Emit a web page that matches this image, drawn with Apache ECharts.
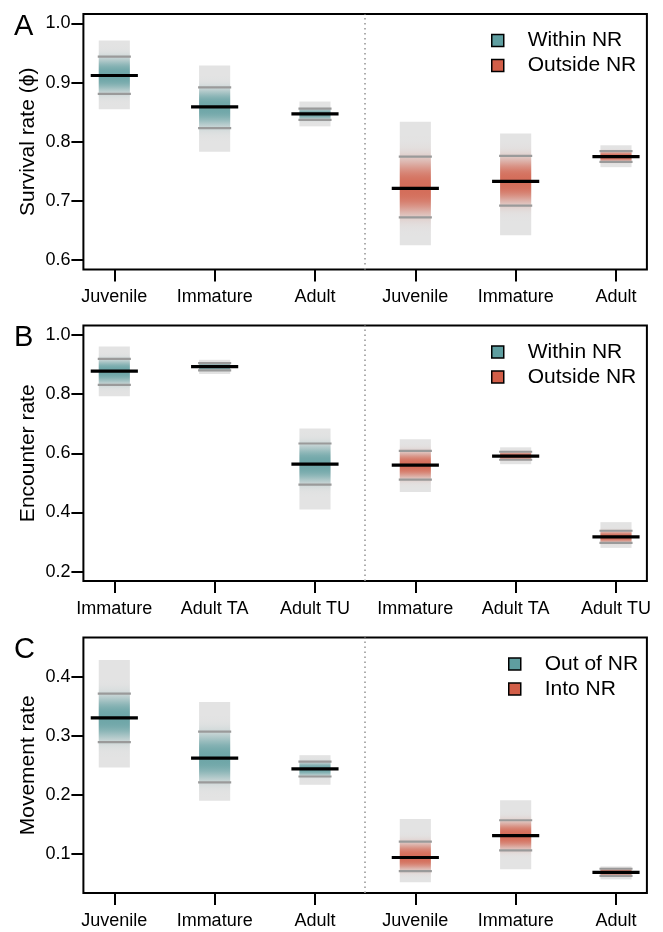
<!DOCTYPE html>
<html><head><meta charset="utf-8">
<script src="https://cdn.jsdelivr.net/npm/echarts@6/dist/echarts.min.js"></script>
<style>html,body{margin:0;padding:0;background:#fff}#c{width:663px;height:932px}</style>
</head><body><div id="c"></div>
<script>
// ---- Data ----
const catsA = ['Juvenile','Immature','Adult','Juvenile','Immature','Adult'];
const meanA = [0.912,0.859,0.847,0.721,0.733,0.775];
const lo50A = [0.881,0.823,0.837,0.672,0.692,0.766];
const hi50A = [0.944,0.892,0.856,0.775,0.776,0.784];
const lo95A = [0.855,0.783,0.826,0.625,0.642,0.757];
const hi95A = [0.971,0.929,0.868,0.834,0.814,0.794];
const yTicksA = [0.6,0.7,0.8,0.9,1.0];

const catsB = ['Immature','Adult TA','Adult TU','Immature','Adult TA','Adult TU'];
const meanB = [0.878,0.893,0.563,0.560,0.590,0.317];
const lo50B = [0.831,0.880,0.494,0.511,0.578,0.297];
const hi50B = [0.919,0.905,0.633,0.608,0.605,0.338];
const lo95B = [0.793,0.868,0.410,0.469,0.563,0.280];
const hi95B = [0.961,0.916,0.684,0.647,0.620,0.367];
const yTicksB = [0.2,0.4,0.6,0.8,1.0];

const catsC = ['Juvenile','Immature','Adult','Juvenile','Immature','Adult'];
const meanC = [0.330,0.262,0.244,0.094,0.131,0.069];
const lo50C = [0.289,0.221,0.231,0.071,0.106,0.063];
const hi50C = [0.371,0.307,0.256,0.121,0.157,0.075];
const lo95C = [0.246,0.190,0.217,0.052,0.074,0.057];
const hi95C = [0.428,0.357,0.267,0.159,0.191,0.079];
const yTicksC = [0.1,0.2,0.3,0.4];

const legendA = ['Within NR','Outside NR'];
const legendB = ['Within NR','Outside NR'];
const legendC = ['Out of NR','Into NR'];
const titlesY = ['Survival rate (\u03D5)','Encounter rate','Movement rate'];
const letters = ['A','B','C'];
const xPositions = [0,1,2,3,4,5];

// ---- Styling ----
const FONT = '"Liberation Sans", Arial, Helvetica, sans-serif';
const TEAL = [95,158,160], RED = [210,94,72];
const TEAL_HEX = '#5f9ea0', RED_HEX = '#d25e48';
const GREY_BOX = '#e3e3e3', GREY_LINE = '#9a9a9a';

function rgba(c,a){ return 'rgba('+c[0]+','+c[1]+','+c[2]+','+a.toFixed(3)+')'; }

function makeRender(rgb){
  return function(params, api){
    const x = api.value(0), m = api.value(1), l1 = api.value(2), h1 = api.value(3),
          l2 = api.value(4), h2 = api.value(5);
    const pTop = api.coord([x, h2]), pBot = api.coord([x, l2]);
    const pM = api.coord([x, m]), pH1 = api.coord([x, h1]), pL1 = api.coord([x, l1]);
    const unit = api.size([1, 0])[0];
    const cx = pTop[0];
    const bw = 0.31 * unit, gw = 0.33 * unit, kw = 0.47 * unit;
    const stops = [];
    const N = 48;
    for (let i = 0; i <= N; i++) {
      const o = i / N;
      const v = h2 - o * (h2 - l2);
      let t = v >= m ? (v - m) / (h1 - m) : (m - v) / (m - l1);
      const a = 0.88 * Math.exp(-Math.pow(t / 0.84, 2.8));
      stops.push({offset: o, color: rgba(rgb, a)});
    }
    const h = pBot[1] - pTop[1];
    return {
      type: 'group',
      children: [
        {type: 'rect', shape: {x: cx - bw/2, y: pTop[1], width: bw, height: h}, style: {fill: GREY_BOX}},
        {type: 'rect', shape: {x: cx - bw/2, y: pTop[1], width: bw, height: h},
         style: {fill: {type: 'linear', x: 0, y: 0, x2: 0, y2: 1, colorStops: stops}}},
        {type: 'line', shape: {x1: cx - gw/2, y1: pH1[1], x2: cx + gw/2, y2: pH1[1]}, style: {stroke: GREY_LINE, lineWidth: 2.2}},
        {type: 'line', shape: {x1: cx - gw/2, y1: pL1[1], x2: cx + gw/2, y2: pL1[1]}, style: {stroke: GREY_LINE, lineWidth: 2.2}},
        {type: 'line', shape: {x1: cx - kw/2, y1: pM[1], x2: cx + kw/2, y2: pM[1]}, style: {stroke: '#000', lineWidth: 3.2}}
      ]
    };
  };
}

function rows(idx, mean, lo50, hi50, lo95, hi95){
  return idx.map(i => [xPositions[i], mean[i], lo50[i], hi50[i], lo95[i], hi95[i]]);
}

const panels = [
  {cats: catsA, mean: meanA, lo50: lo50A, hi50: hi50A, lo95: lo95A, hi95: hi95A, ticks: yTicksA, min: 0.584, max: 1.016, leg: legendA, top: 14, legLeft: 491},
  {cats: catsB, mean: meanB, lo50: lo50B, hi50: hi50B, lo95: lo95B, hi95: hi95B, ticks: yTicksB, min: 0.168, max: 1.032, leg: legendB, top: 325.5, legLeft: 491},
  {cats: catsC, mean: meanC, lo50: lo50C, hi50: hi50C, lo95: lo95C, hi95: hi95C, ticks: yTicksC, min: 0.034, max: 0.466, leg: legendC, top: 637.5, legLeft: 508}
];

const grid = [], xAxis = [], yAxis = [], series = [], legend = [], graphic = [];
panels.forEach((p, k) => {
  grid.push({left: 83.4, top: p.top, width: 563.5, height: 255.5, show: true,
    borderColor: '#000', borderWidth: 2, backgroundColor: 'transparent'});
  xAxis.push({type: 'value', gridIndex: k, min: -0.308, max: 5.308, position: 'bottom',
    axisLine: {show: false, onZero: false}, splitLine: {show: false},
    axisTick: {show: true, customValues: xPositions, length: 12, lineStyle: {color: '#000', width: 2}},
    axisLabel: {customValues: xPositions, formatter: v => p.cats[Math.round(v)],
      fontSize: 18, color: '#000', fontFamily: FONT, margin: 19}});
  yAxis.push({type: 'value', gridIndex: k, min: p.min, max: p.max, position: 'left',
    axisLine: {show: false, onZero: false}, splitLine: {show: false},
    axisTick: {show: true, customValues: p.ticks, length: 12, lineStyle: {color: '#000', width: 2}},
    axisLabel: {customValues: p.ticks, formatter: v => v.toFixed(1),
      fontSize: 18, color: '#000', fontFamily: FONT, margin: 13},
    name: titlesY[k], nameLocation: 'middle', nameGap: 45, nameMoveOverlap: false,
    nameTextStyle: {fontSize: 21, color: '#000', fontFamily: FONT}});
  series.push({type: 'custom', name: p.leg[0], xAxisIndex: k, yAxisIndex: k,
    itemStyle: {color: TEAL_HEX}, renderItem: makeRender(TEAL),
    encode: {x: 0, y: [1,2,3,4,5]},
    data: rows([0,1,2], p.mean, p.lo50, p.hi50, p.lo95, p.hi95),
    markLine: {silent: true, symbol: 'none', label: {show: false},
      lineStyle: {type: [1.5, 3.5], color: '#999999', width: 1.6},
      data: [{xAxis: 2.5}], animation: false},
    animation: false});
  series.push({type: 'custom', name: p.leg[1], xAxisIndex: k, yAxisIndex: k,
    itemStyle: {color: RED_HEX}, renderItem: makeRender(RED),
    encode: {x: 0, y: [1,2,3,4,5]},
    data: rows([3,4,5], p.mean, p.lo50, p.hi50, p.lo95, p.hi95),
    animation: false});
  legend.push({orient: 'vertical', left: p.legLeft, top: p.top + 14.5, padding: 0,
    itemWidth: 12, itemHeight: 12, itemGap: 1, selectedMode: false,
    textStyle: {fontSize: 21, color: '#000', fontFamily: FONT, lineHeight: 24, padding: [0,0,0,19]},
    data: [
      {name: p.leg[0], icon: 'rect', itemStyle: {color: TEAL_HEX, borderColor: '#000', borderWidth: 1.5}},
      {name: p.leg[1], icon: 'rect', itemStyle: {color: RED_HEX, borderColor: '#000', borderWidth: 1.5}}
    ]});
  graphic.push({type: 'text', left: 14, top: p.top - 2,
    style: {text: letters[k], fontSize: 29, fill: '#000', fontFamily: FONT}});
});

const chart = echarts.init(document.getElementById('c'), null, {renderer: 'canvas'});
chart.setOption({animation: false, backgroundColor: '#fff', grid, xAxis, yAxis, series, legend, graphic});
</script></body></html>
